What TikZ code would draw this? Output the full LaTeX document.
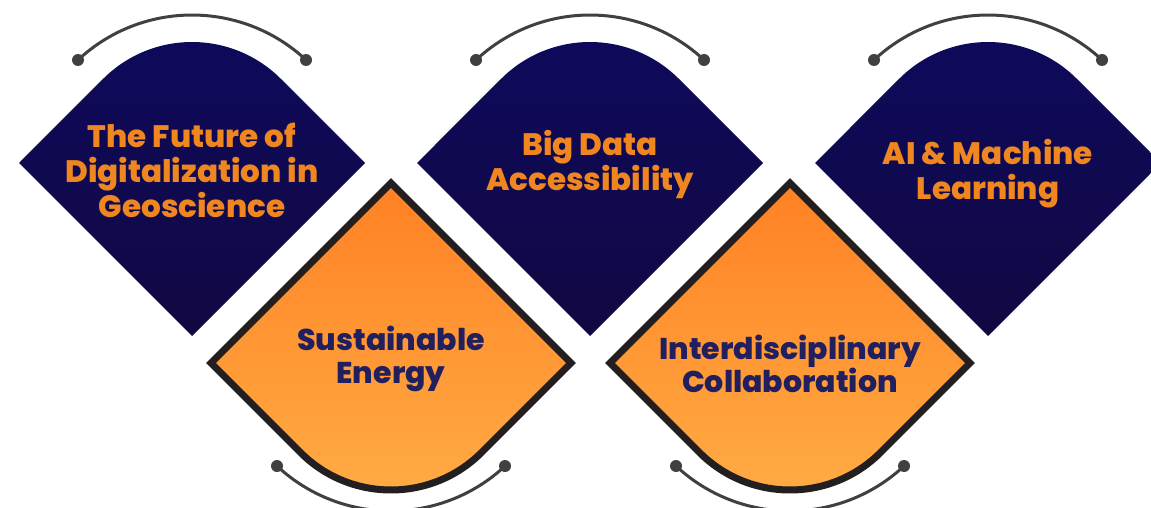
\documentclass[tikz,border=0pt]{standalone}
\usepackage{fontspec}
\IfFontExistsTF{Poppins ExtraBold}
  {\setmainfont{Poppins}[BoldFont={Poppins ExtraBold}]}
  {\setmainfont{Poppins}}
\definecolor{navytop}{HTML}{0E0A5C}
\definecolor{navybot}{HTML}{110842}
\definecolor{orgtop}{HTML}{FF8124}
\definecolor{orgbot}{HTML}{FFAC44}
\definecolor{orgtext}{HTML}{F0861F}
\definecolor{navytext}{HTML}{211F5E}
\definecolor{outline}{HTML}{231F20}
\definecolor{arcgray}{HTML}{404040}
\tikzset{
  navyshape/.style={top color=navytop,bottom color=navybot,draw=none},
  orgshape/.style={top color=orgtop,bottom color=orgbot,draw=outline,line width=7pt,line join=miter},
  toptext/.style={font=\bfseries\fontsize{31}{35}\selectfont,text=orgtext,align=center},
  bottext/.style={font=\bfseries\fontsize{30}{33}\selectfont,text=navytext,align=center},
  deco/.style={draw=arcgray,line width=3pt},
  decodot/.style={fill=arcgray},
}
\newcommand{\navyat}[1]{%
  \shade[navyshape] (#1-173,-163) -- (#1,-336) -- (#1+173,-163) -- (#1+88.8,-78.8)
     arc[start angle=45,end angle=135,radius=125.6pt] -- cycle;
  \draw[deco] (#1-114,-60) arc[start angle=133.06,end angle=46.94,radius=167pt];
  \fill[decodot] (#1-114,-60) circle[radius=6pt] (#1+114,-60) circle[radius=6pt];
}
\newcommand{\orgat}[1]{%
  \shade[orgshape] (#1-180,-363) -- (#1,-183) -- (#1+180,-363) -- (#1+90.5,-452.5)
     arc[start angle=-45,end angle=-135,radius=128pt] -- cycle;
  \draw[deco] (#1-114,-466) arc[start angle=-133.06,end angle=-46.94,radius=167pt];
  \fill[decodot] (#1-114,-466) circle[radius=6pt] (#1+114,-466) circle[radius=6pt];
}
\begin{document}
\begin{tikzpicture}[x=1pt,y=1pt]
\useasboundingbox (0,0) rectangle (1151,-508);
\begin{scope}
\clip (0,0) rectangle (1151,-508);
\navyat{192}
\navyat{590}
\navyat{988}
\orgat{391}
\orgat{790}
\end{scope}
\node[toptext] (n1) at (192,-170) {The Future of\\Digitalization in\\Geoscience};
\node[toptext] (n2) at (590,-165) {Big Data\\Accessibility};
\node[toptext] (n3) at (988,-174) {AI \& Machine\\Learning};
\node[bottext] (o1) at (391,-359) {Sustainable\\Energy};
\node[bottext] (o2) at (790,-364) {Interdisciplinary\\Collaboration};
\end{tikzpicture}
\end{document}
